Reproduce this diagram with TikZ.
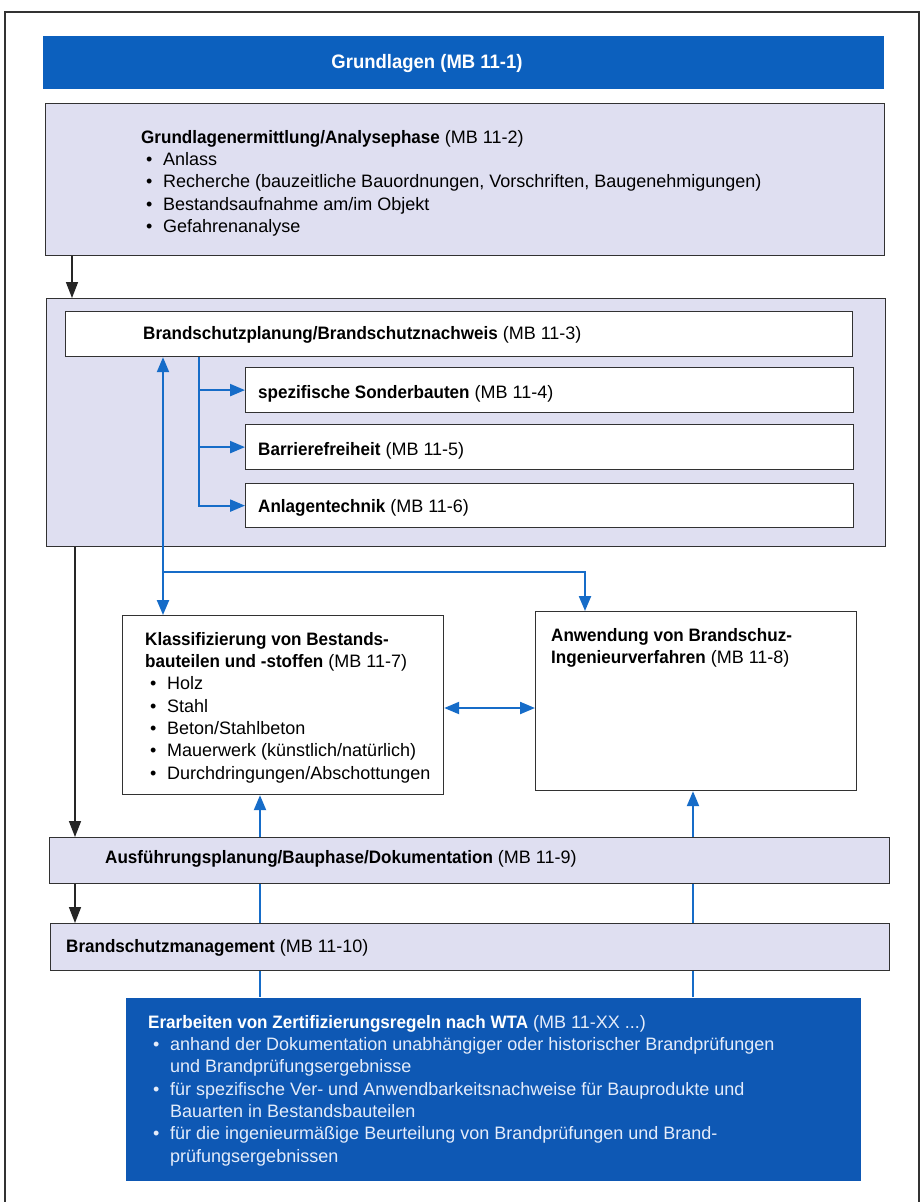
\documentclass[tikz,border=0pt]{standalone}
\usepackage{fontspec}
\setmainfont{Liberation Sans}[BoldFeatures={FakeStretch=0.948}]
\usetikzlibrary{arrows.meta}
\definecolor{barblue}{RGB}{12,96,190}
\definecolor{darkbox}{RGB}{14,88,180}
\definecolor{lav}{RGB}{223,223,241}
\definecolor{arrblue}{RGB}{22,108,200}
\definecolor{framegray}{RGB}{50,50,50}
\definecolor{lighttext}{RGB}{228,236,250}
\pgfdeclarelayer{bg}
\pgfsetlayers{bg,main}
\newcommand{\bul}{\hspace*{5pt}\makebox[17pt][l]{•}}
\newcommand{\ind}{\hspace*{22pt}}
\tikzset{
  box/.style={draw=framegray, line width=1.2pt, anchor=north west, inner sep=0pt},
  lavbox/.style={box, fill=lav},
  whitebox/.style={box, fill=white},
  txt/.style={inner sep=0pt, anchor=west, font=\fontsize{18}{22.3}\selectfont},
  list/.style={inner sep=0pt, anchor=north west, align=left, font=\fontsize{18}{22.3}\selectfont},
  blk/.style={draw=black!85, line width=1.6pt, -{Triangle[length=16pt,width=12pt]}},
  bl/.style={draw=arrblue, line width=2.2pt, -{Triangle[length=15pt,width=12pt]}},
  blboth/.style={draw=arrblue, line width=2.2pt, {Triangle[length=15pt,width=12pt]}-{Triangle[length=15pt,width=12pt]}}
}
\begin{document}
\begin{tikzpicture}[x=1pt,y=-1pt]
\useasboundingbox (0,0) rectangle (922,1202);
\begin{pgfonlayer}{bg}
\fill[white] (0,0) rectangle (922,1202);
\end{pgfonlayer}
% outer frame
\draw[framegray, line width=1.3pt] (5,1202) -- (5,12) -- (919,12) -- (919,1202);

% Grundlagen bar
\node[box, draw=none, fill=barblue, minimum width=841pt, minimum height=53pt] (gl) at (42,35) {};
\node[inner sep=0pt, text=white, font=\fontsize{19.5}{22}\selectfont\bfseries] (glt) at (427,63) {Grundlagen (MB 11-1)};

% Box 1
\node[lavbox, minimum width=839pt, minimum height=152pt] (b1) at (45,103) {};
\node[list] (b1t) at (141,143-15.6) {\strut\textbf{Grundlagenermittlung/Analysephase} (MB 11-2)\\
\bul Anlass\\
\bul Recherche (bauzeitliche Bauordnungen, Vorschriften, Baugenehmigungen)\\
\bul Bestandsaufnahme am/im Objekt\\
\bul Gefahrenanalyse};

% Box 2 container
\node[lavbox, minimum width=839pt, minimum height=248pt] (b2) at (46,298) {};
\node[whitebox, minimum width=787pt, minimum height=45pt] (bp) at (65,311) {};
\node[txt] (bpt) at (143,335) {\textbf{Brandschutzplanung/Brandschutznachweis} (MB 11-3)};
\node[whitebox, minimum width=608pt, minimum height=45pt] (sa) at (245,367) {};
\node[txt] (sat) at (258,394) {\textbf{spezifische Sonderbauten} (MB 11-4)};
\node[whitebox, minimum width=608pt, minimum height=45pt] (sb) at (245,424) {};
\node[txt] (sbt) at (258,451) {\textbf{Barrierefreiheit} (MB 11-5)};
\node[whitebox, minimum width=608pt, minimum height=44pt] (sc) at (245,483) {};
\node[txt] (sct) at (258,508) {\textbf{Anlagentechnik} (MB 11-6)};

% Klassifizierung and Anwendung
\node[whitebox, minimum width=321pt, minimum height=179pt] (kl) at (122,615) {};
\node[list] (klt) at (145,645-15.6) {\strut\textbf{Klassifizierung von Bestands-}\\
\textbf{bauteilen und -stoffen} (MB 11-7)\\
\bul Holz\\
\bul Stahl\\
\bul Beton/Stahlbeton\\
\bul Mauerwerk (künstlich/natürlich)\\
\bul Durchdringungen/Abschottungen};
\node[whitebox, minimum width=321pt, minimum height=179pt] (an) at (535,611) {};
\node[list] (ant) at (551,641-15.6) {\strut\textbf{Anwendung von Brandschuz-}\\
\textbf{Ingenieurverfahren} (MB 11-8)};

% Ausfuehrung, Management
\node[lavbox, minimum width=840pt, minimum height=46pt] (au) at (49,837) {};
\node[txt] (aut) at (105,859) {\textbf{Ausführungsplanung/Bauphase/Dokumentation} (MB 11-9)};
\node[lavbox, minimum width=839pt, minimum height=47pt] (bm) at (50,923) {};
\node[txt] (bmt) at (66,948) {\textbf{Brandschutzmanagement} (MB 11-10)};

% Erarbeiten
\node[box, draw=none, fill=darkbox, minimum width=735pt, minimum height=183pt] (er) at (125,997) {};
\node[list, text=lighttext] (ert) at (148,1028-15.6) {\strut\textcolor{white}{\textbf{Erarbeiten von Zertifizierungsregeln nach WTA}} (MB 11-XX ...)\\
\bul anhand der Dokumentation unabhängiger oder historischer Brandprüfungen\\
\ind und Brandprüfungsergebnisse\\
\bul für spezifische Ver- und Anwendbarkeitsnachweise für Bauprodukte und\\
\ind Bauarten in Bestandsbauteilen\\
\bul für die ingenieurmäßige Beurteilung von Brandprüfungen und Brand-\\
\ind prüfungsergebnissen};

% coordinates for connectors
\coordinate (kx1) at (72,0);
\coordinate (kx2) at (75,0);
\coordinate (vx) at (199,0);
\coordinate (ux) at (163,0);
\coordinate (hy) at (0,572);
\coordinate (ax) at (585,0);
\coordinate (dy) at (0,708);
\coordinate (lx) at (260,0);
\coordinate (rx) at (693,0);

% black arrows
\draw[blk] (kx1 |- b1.south) -- (kx1 |- b2.north);
\draw[blk] (kx2 |- b2.south) -- (kx2 |- au.north);
\draw[blk] (kx2 |- au.south) -- (kx2 |- bm.north);

% blue arrows inside box 2
\draw[bl] (vx |- bp.south) |- (sa.west);
\draw[bl] (vx |- bp.south) |- (sb.west);
\draw[bl] (vx |- bp.south) |- (sc.west);

% feedback
\coordinate (hub) at (ux |- hy);
\draw[bl] (hub) -- (ux |- bp.south);
\draw[bl] (hub) -- (ux |- kl.north);
\draw[bl] (hub) -| (ax |- an.north);
\draw[blboth] (kl.east |- dy) -- (an.west |- dy);

% from Erarbeiten up (behind boxes)
\begin{pgfonlayer}{bg}
\draw[bl] (lx |- er.north) -- (lx |- kl.south);
\draw[bl] (rx |- er.north) -- (rx |- an.south);
\end{pgfonlayer}
\end{tikzpicture}
\end{document}
